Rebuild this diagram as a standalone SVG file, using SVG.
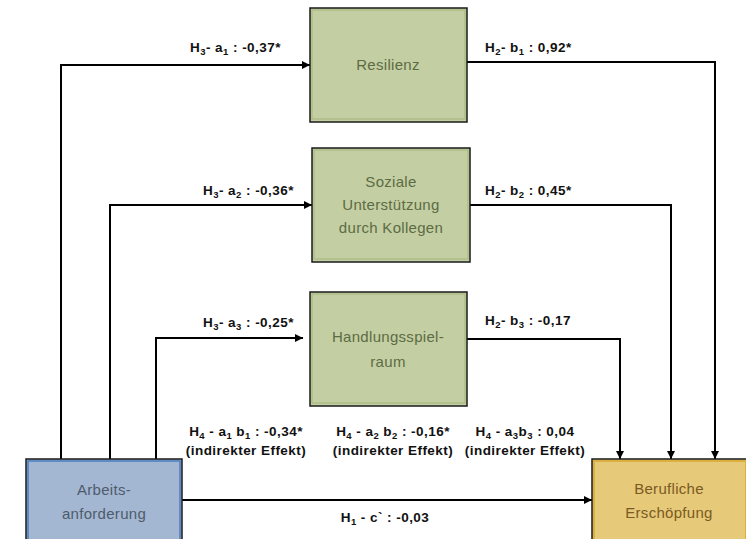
<svg xmlns="http://www.w3.org/2000/svg" width="746" height="539" viewBox="0 0 746 539">
<style>
.conn{fill:none;stroke:#000;stroke-width:2}
.lbl{font-family:"Liberation Sans",Arial,sans-serif;font-weight:bold;font-size:13.5px;letter-spacing:0.45px;fill:#111}
.sub{font-size:9.5px}
.node{font-family:"Liberation Sans",Arial,sans-serif;font-size:15px;letter-spacing:0.3px;text-anchor:middle}
.g rect.o{fill:#c3cfa2;stroke:#1a1a1a;stroke-width:1.5}
.g rect.i{fill:none;stroke:#aebd88;stroke-width:1.5}
.g text{fill:#5d6b45}
</style>
<defs>
<marker id="ah" viewBox="0 0 10 10" refX="10" refY="5" markerWidth="9" markerHeight="8" markerUnits="userSpaceOnUse" orient="auto">
<path d="M0,0 L10,5 L0,10 z" fill="#000"/>
</marker>
</defs>
<rect width="746" height="539" fill="#fff"/>
<g id="connectors">
<path class="conn" d="M61,459 V65 H310" marker-end="url(#ah)"/>
<path class="conn" d="M110,459 V205 H312" marker-end="url(#ah)"/>
<path class="conn" d="M156,459 V338 H303" marker-end="url(#ah)"/>
<path class="conn" d="M467,62 H715 V459" marker-end="url(#ah)"/>
<path class="conn" d="M470,205 H671 V459" marker-end="url(#ah)"/>
<path class="conn" d="M467,339 H620 V459" marker-end="url(#ah)"/>
<path class="conn" d="M182,500 H592" marker-end="url(#ah)"/>
</g>
<g id="labels">
<text class="lbl" x="190" y="52">H<tspan class="sub" dy="3">3</tspan><tspan dy="-3">- a</tspan><tspan class="sub" dy="3">1</tspan><tspan dy="-3"> : -0,37*</tspan></text>
<text class="lbl" x="203" y="195">H<tspan class="sub" dy="3">3</tspan><tspan dy="-3">- a</tspan><tspan class="sub" dy="3">2</tspan><tspan dy="-3"> : -0,36*</tspan></text>
<text class="lbl" x="203" y="327">H<tspan class="sub" dy="3">3</tspan><tspan dy="-3">- a</tspan><tspan class="sub" dy="3">3</tspan><tspan dy="-3"> : -0,25*</tspan></text>
<text class="lbl" x="485" y="52">H<tspan class="sub" dy="3">2</tspan><tspan dy="-3">- b</tspan><tspan class="sub" dy="3">1</tspan><tspan dy="-3"> : 0,92*</tspan></text>
<text class="lbl" x="485" y="195">H<tspan class="sub" dy="3">2</tspan><tspan dy="-3">- b</tspan><tspan class="sub" dy="3">2</tspan><tspan dy="-3"> : 0,45*</tspan></text>
<text class="lbl" x="485" y="325">H<tspan class="sub" dy="3">2</tspan><tspan dy="-3">- b</tspan><tspan class="sub" dy="3">3</tspan><tspan dy="-3"> : -0,17</tspan></text>
<text class="lbl" x="246" y="436" text-anchor="middle">H<tspan class="sub" dy="3">4</tspan><tspan dy="-3"> - a</tspan><tspan class="sub" dy="3">1</tspan><tspan dy="-3"> b</tspan><tspan class="sub" dy="3">1</tspan><tspan dy="-3"> : -0,34*</tspan></text>
<text class="lbl" x="246" y="455" text-anchor="middle">(indirekter Effekt)</text>
<text class="lbl" x="393" y="436" text-anchor="middle">H<tspan class="sub" dy="3">4</tspan><tspan dy="-3"> - a</tspan><tspan class="sub" dy="3">2</tspan><tspan dy="-3"> b</tspan><tspan class="sub" dy="3">2</tspan><tspan dy="-3"> : -0,16*</tspan></text>
<text class="lbl" x="393" y="455" text-anchor="middle">(indirekter Effekt)</text>
<text class="lbl" x="525" y="436" text-anchor="middle">H<tspan class="sub" dy="3">4</tspan><tspan dy="-3"> - a</tspan><tspan class="sub" dy="3">3</tspan><tspan dy="-3">b</tspan><tspan class="sub" dy="3">3</tspan><tspan dy="-3"> : 0,04</tspan></text>
<text class="lbl" x="525" y="455" text-anchor="middle">(indirekter Effekt)</text>
<text class="lbl" x="385" y="522" text-anchor="middle">H<tspan class="sub" dy="3">1</tspan><tspan dy="-3"> - c` : -0,03</tspan></text>
</g>
<g id="resilienz" class="g">
<rect class="o" x="310" y="8" width="157" height="114"/>
<rect class="i" x="312" y="10" width="153" height="109"/>
<text class="node" x="388" y="70">Resilienz</text>
</g>
<g id="soziale" class="g">
<rect class="o" x="312" y="148" width="158" height="114"/>
<rect class="i" x="314" y="150" width="154" height="109"/>
<text class="node" x="391" y="187">Soziale</text>
<text class="node" x="391" y="210">Unterstützung</text>
<text class="node" x="391" y="233">durch Kollegen</text>
</g>
<g id="handlung" class="g">
<rect class="o" x="310" y="292" width="157" height="114"/>
<rect class="i" x="312" y="294" width="153" height="109"/>
<text class="node" x="388" y="342">Handlungsspiel-</text>
<text class="node" x="388" y="367">raum</text>
</g>
<g id="arbeit">
<rect x="26" y="459" width="156" height="82" fill="#a3b7d3" stroke="#1a1a1a" stroke-width="1.5"/>
<rect x="28" y="461" width="152" height="80" fill="none" stroke="#4a7dc0" stroke-width="1.5"/>
<text class="node" x="104" y="495" fill="#4f5b6b">Arbeits-</text>
<text class="node" x="104" y="519" fill="#4f5b6b">anforderung</text>
</g>
<g id="berufliche">
<rect x="592" y="459" width="156" height="82" fill="#e6c979" stroke="#1a1a1a" stroke-width="1.5"/>
<rect x="594" y="461" width="152" height="80" fill="none" stroke="#d7a82e" stroke-width="1.5"/>
<text class="node" x="669" y="494" fill="#7a5a22">Berufliche</text>
<text class="node" x="669" y="518" fill="#7a5a22">Erschöpfung</text>
</g>
</svg>
